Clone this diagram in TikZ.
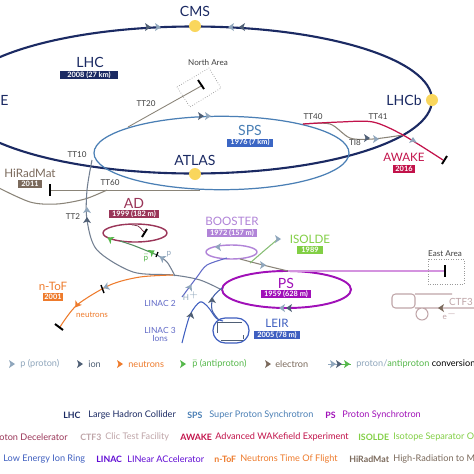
\documentclass[tikz,border=0pt]{standalone}
\usepackage{fontspec}
\setmainfont{Lato}
\definecolor{lhcblue}{HTML}{1B2A63}
\definecolor{spsblue}{HTML}{4A7FB5}
\definecolor{yellowdot}{HTML}{F9D65C}
\definecolor{protongrey}{HTML}{8FA6BC}
\definecolor{iongrey}{HTML}{4F5F75}
\definecolor{adred}{HTML}{9A3558}
\definecolor{boosterpurple}{HTML}{B184D8}
\definecolor{pspurple}{HTML}{A010B8}
\definecolor{leirblue}{HTML}{3F5FC0}
\definecolor{isoldegreen}{HTML}{82CF45}
\definecolor{awakered}{HTML}{C2124A}
\definecolor{toforange}{HTML}{EE7B2C}
\definecolor{hiradbrown}{HTML}{7B6A5C}
\definecolor{ctfrose}{HTML}{BFA5A8}
\definecolor{beamgrey}{HTML}{8A8478}
\definecolor{antigreen}{HTML}{55B84A}
\tikzset{
  biglabel/.style={font=\fontsize{8}{9}\selectfont,text=#1},
  midlabel/.style={font=\fontsize{6.6}{8}\selectfont,text=#1},
  smalllabel/.style={font=\fontsize{4.6}{5}\selectfont,text=#1},
  keylabel/.style={font=\fontsize{5.2}{6}\selectfont,text=#1,anchor=west,inner sep=0pt},
  keyname/.style={font=\fontsize{5}{6}\selectfont\bfseries,text=#1,anchor=west,inner sep=0pt},
  yearbox/.style={fill=#1,text=white,font=\fontsize{4.2}{5}\selectfont\bfseries,inner sep=0pt,minimum height=0.16cm},
  blockbar/.style={black,line width=1.1pt},
  dashedarea/.style={densely dotted,gray!80,line width=0.4pt},
}
\newcommand{\beamtip}[3]{\fill[#1,shift={(#2)},rotate=#3] (3,0) -- (-3,-4) -- (-1.5,0) -- (-3,4) -- cycle;}
\begin{document}
\begin{tikzpicture}[x=0.02cm,y=-0.02cm]
\clip (0,0) rectangle (474,474);
\fill[white] (0,0) rectangle (474,474);
% rings
\draw[lhcblue,line width=1.2pt] (193.5,100) ellipse (238.5 and 73.5);
\draw[spsblue,line width=0.7pt] (221.5,153) ellipse (127.5 and 36.7);
\draw[adred,line width=0.8pt] (135,233) ellipse (32 and 9);
\draw[boosterpurple,line width=0.8pt] (231.5,252) ellipse (25.5 and 7);
\draw[pspurple,line width=1.1pt] (286.5,289.5) ellipse (64.5 and 18.5);
% transfer lines
\coordinate (tt40) at (303,124);
\coordinate (ti8end) at (403,135);
\coordinate (northend) at (203,85);
\coordinate (spsleft) at (92,160);
\coordinate (pstop) at (288,271);
\coordinate (eastend) at (445,271);
\coordinate (tofsplit) at (173,275);
\draw[beamgrey,line width=0.5pt] (128,127) -- (northend);
\draw[beamgrey,line width=0.5pt] (50,190) -- (200,190);
\draw[beamgrey,line width=0.6pt] plot[smooth] coordinates {(-5,186) (30,202) (57,204) (85,199) (107,190)};
\draw[iongrey!80,line width=0.6pt] plot[smooth] coordinates {(spsleft) (87,190) (87,220) (97,250) (133,272) (tofsplit) (200,280) (222,290)};
\draw[beamgrey,line width=0.6pt] plot[smooth] coordinates {(tt40) (330,124) (350,138) (373,139) (ti8end)};
\draw[awakered,line width=0.7pt] plot[smooth] coordinates {(tt40) (340,122) (373,122) (403,135) (443,160)};
\draw[adred!70!black,line width=0.4pt] plot[smooth] coordinates {(132,225) (138,226) (144,232)};
\draw[antigreen!50!iongrey,line width=0.6pt] plot[smooth] coordinates {(120,241) (135,246) (157,255)};
\draw[iongrey!80,line width=0.6pt] plot[smooth] coordinates {(157,255) (167,262) (175,276)};
\draw[toforange,line width=0.6pt] plot[smooth] coordinates {(tofsplit) (140,277) (110,285) (77,305) (60,327)};
\draw[leirblue!70!boosterpurple,line width=0.6pt] plot[smooth] coordinates {(182,297) (197,277) (207,265) (227,258)};
\draw[leirblue,line width=0.6pt] plot[smooth] coordinates {(182,343) (190,315) (200,302) (208,307) (216,318) (223,321)};
\draw[leirblue!70!iongrey,line width=0.6pt] plot[smooth] coordinates {(218,319) (212,310) (213,297) (222,288)};
\draw[beamgrey,line width=0.6pt] plot[smooth] coordinates {(240,259) (263,265) (pstop)};
\draw[isoldegreen!60!protongrey,line width=0.6pt] plot[smooth] coordinates {(250,263) (265,250) (278,239)};
\draw[pspurple!45,line width=0.7pt] (pstop) -- (eastend);
% LEIR
\draw[leirblue,line width=0.7pt,rounded corners=7pt] (213,318) rectangle (249,343);
\draw[iongrey,line width=0.5pt] (221,340) -- (243,340) (243,335) -- (243,339) (217,333) -- (217,322) -- (242,322);
% CTF3
\draw[ctfrose,line width=0.6pt,rounded corners=2pt] (392,294) rectangle (415,308);
\draw[ctfrose,line width=0.6pt] (415,294) -- (452,294) (415,308) -- (474,308) (422,314) circle (6);
% experimental areas
\draw[dashedarea] (177,87) -- (209,68) -- (221,88) -- (190,107) -- cycle;
\draw[dashedarea] (428,259) rectangle (464,284);
\draw[blockbar] (198,80) -- (204,89);
\draw[blockbar] (50,184) -- (50,196);
\draw[blockbar] (445,265) -- (445,277);
\draw[blockbar] (442,164) -- (447,156);
\draw[blockbar] (142,237) -- (147,229);
\draw[blockbar,line width=0.7pt] (156,257) -- (158,252);
\draw[blockbar,line width=0.8pt] (101,285) -- (104,293);
\draw[blockbar] (55,324) -- (63,330);
% beam markers
\beamtip{iongrey}{148,27}{0}
\beamtip{protongrey}{158,27}{0}
\beamtip{protongrey}{231,27}{180}
\beamtip{iongrey}{242,27}{180}
\beamtip{iongrey}{201,116}{0}
\beamtip{protongrey}{208,116}{0}
\beamtip{protongrey}{87,210}{90}
\beamtip{iongrey}{87,220}{90}
\beamtip{iongrey}{367,138}{0}
\beamtip{protongrey}{376,139}{0}
\beamtip{protongrey}{413,140}{90}
\beamtip{antigreen}{110,239}{150}
\beamtip{antigreen}{152,252}{30}
\beamtip{protongrey}{162,258}{150}
\beamtip{protongrey}{106,287}{200}
\beamtip{toforange}{77,305}{235}
\beamtip{protongrey}{190,287}{60}
\beamtip{iongrey}{191,315}{75}
\beamtip{iongrey}{212,300}{90}
\beamtip{protongrey}{218,247}{180}
\beamtip{protongrey}{263,265}{0}
\beamtip{protongrey}{278,239}{0}
\beamtip{protongrey}{282,308}{180}
\beamtip{iongrey}{289,308}{180}
\beamtip{hiradbrown}{441,308}{180}
% experiments
\foreach \px/\py in {195/26,195/174,432/100}
  \fill[yellowdot] (\px,\py) circle (6);
\node[biglabel=lhcblue] (cms) at (195,11) {CMS};
\node[biglabel=lhcblue] (atlas) at (195,160) {ATLAS};
\node[biglabel=lhcblue,anchor=east,inner sep=0pt] (lhcb) at (422,100) {LHCb};
\node[biglabel=lhcblue,anchor=west,inner sep=0pt] (alice) at (0,100) {E};
% machine names
\node[biglabel=lhcblue] (lhc) at (90,62) {LHC};
\node[yearbox=lhcblue,minimum width=1.16cm] (lhcyear) at (89,75) {2008 (27 km)};
\node[biglabel=spsblue] (sps) at (250,130) {SPS};
\node[yearbox=spsblue!80!blue,minimum width=0.92cm] (spsyear) at (250,142.5) {1976 (7 km)};
\node[midlabel=hiradbrown] (hiradmat) at (30,173) {HiRadMat};
\node[yearbox=hiradbrown,minimum width=0.48cm] (hiradyear) at (30,184) {2011};
\node[midlabel=adred,font=\fontsize{8}{9}\selectfont] (ad) at (134,203) {AD};
\node[yearbox=adred,minimum width=1cm] (adyear) at (134,214) {1999 (182 m)};
\node[midlabel=boosterpurple] (booster) at (232,221) {BOOSTER};
\node[yearbox=boosterpurple,minimum width=1cm] (boosteryear) at (232,233) {1972 (157 m)};
\node[midlabel=isoldegreen] (isolde) at (310,239) {ISOLDE};
\node[yearbox=isoldegreen,minimum width=0.52cm] (isoldeyear) at (310,250) {1989};
\node[biglabel=pspurple] (ps) at (286,283) {PS};
\node[yearbox=pspurple,minimum width=1cm] (psyear) at (286,294) {1959 (628 m)};
\node[midlabel=leirblue] (leir) at (277,323) {LEIR};
\node[yearbox=leirblue,minimum width=0.92cm] (leiryear) at (277,335) {2005 (78 m)};
\node[midlabel=awakered] (awake) at (404,157) {AWAKE};
\node[yearbox=awakered,minimum width=0.44cm] (awakeyear) at (404,168.5) {2016};
\node[midlabel=toforange] (ntof) at (53,286) {n-ToF};
\node[yearbox=toforange,minimum width=0.42cm] (ntofyear) at (53,296.5) {2001};
\node[midlabel=ctfrose,font=\fontsize{5.6}{6}\selectfont,inner sep=0pt] (ctf) at (461,302) {CTF3};
% small labels
\node[smalllabel=black!75] (northarea) at (208,63) {North Area};
\node[smalllabel=black!75] (eastarea) at (445,254) {East Area};
\node[smalllabel=black!75] (ttwenty) at (146,104) {TT20};
\node[smalllabel=black!75] (ttten) at (77,155) {TT10};
\node[smalllabel=black!75] (ttsixty) at (110,183) {TT60};
\node[smalllabel=black!75] (tttwo) at (73,217) {TT2};
\node[smalllabel=black!75] (ttforty) at (313,117) {TT40};
\node[smalllabel=black!75] (ttfortyone) at (378,117) {TT41};
\node[smalllabel=black!75] (tieight) at (355,143) {TI8};
\node[smalllabel=toforange] (neutrons) at (92,315) {neutrons};
\node[smalllabel=leirblue!70!boosterpurple,font=\fontsize{4.8}{5}\selectfont] (linactwo) at (160,303) {LINAC 2};
\node[smalllabel=leirblue!70!boosterpurple,font=\fontsize{4.8}{5}\selectfont] (linacthree) at (160,330) {LINAC 3};
\node[smalllabel=leirblue!70!boosterpurple,font=\fontsize{4.8}{5}\selectfont] (ions) at (160,339) {Ions};
\node[smalllabel=protongrey] (hplus) at (191,296) {H$^{+}$};
\node[smalllabel=antigreen] (pbar) at (146,258) {$\bar{\mathrm{p}}$};
\node[smalllabel=protongrey] (plabel) at (169,254) {p};
\node[smalllabel=ctfrose] (eminus) at (450,315) {e$^{-}$};
% particle key
\beamtip{protongrey}{12,364}{0}
\beamtip{iongrey}{80,364}{0}
\beamtip{toforange}{120,364}{0}
\beamtip{antigreen}{183,364}{0}
\beamtip{hiradbrown}{268,364}{0}
\node[keylabel=protongrey] (keyproton) at (20,364) {p (proton)};
\node[keylabel=iongrey] (keyion) at (88,364) {ion};
\node[keylabel=toforange] (keyneutron) at (128,364) {neutrons};
\node[keylabel=antigreen] (keyanti) at (192,364) {$\bar{\mathrm{p}}$ (antiproton)};
\node[keylabel=hiradbrown] (keyelectron) at (275,364) {electron};
\coordinate (convstart) at (328,364);
\coordinate (convend) at (351,364);
\draw[protongrey,line width=0.5pt] (convstart) -- (339,364);
\draw[antigreen,line width=0.5pt] (339,364) -- (convend);
\beamtip{protongrey}{333,364}{0}
\beamtip{iongrey}{339,364}{0}
\beamtip{antigreen}{347,364}{0}
\node[keylabel=protongrey] (keyconv) at (356,364) {proton/\textcolor{antigreen}{antiproton} \textcolor{black}{conversion}};
% accelerator key
\node[keyname=lhcblue] (keylhc) at (63,415) {LHC};
\node[keylabel=lhcblue] (keylhctext) at (88,415) {Large Hadron Collider};
\node[keyname=spsblue] (keysps) at (187,415) {SPS};
\node[keylabel=spsblue] (keyspstext) at (209,415) {Super Proton Synchrotron};
\node[keyname=pspurple] (keyps) at (325,415) {PS};
\node[keylabel=pspurple] (keypstext) at (342,415) {Proton Synchrotron};
\node[keylabel=adred,anchor=east] (keyad) at (68,437) {oton Decelerator};
\node[keyname=ctfrose] (keyctf) at (80,437) {CTF3};
\node[keylabel=ctfrose] (keyctftext) at (105,437) {Clic Test Facility};
\node[keyname=awakered] (keyawake) at (180,437) {AWAKE};
\node[keylabel=awakered] (keyawaketext) at (215,437) {Advanced WAKefield Experiment};
\node[keyname=isoldegreen] (keyisolde) at (358,437) {ISOLDE};
\node[keylabel=isoldegreen] (keyisoldetext) at (393,437) {Isotope Separator O};
\node[keylabel=leirblue] (keyleir) at (3,459) {Low Energy Ion Ring};
\node[keyname=pspurple!60!blue] (keylinac) at (96,459) {LINAC};
\node[keylabel=pspurple!60!blue] (keylinactext) at (127,459) {LINear ACcelerator};
\node[keyname=toforange] (keyntof) at (214,459) {n-ToF};
\node[keylabel=toforange] (keyntoftext) at (240,459) {Neutrons Time Of Flight};
\node[keyname=hiradbrown] (keyhirad) at (349,459) {HiRadMat};
\node[keylabel=hiradbrown] (keyhiradtext) at (393,459) {High-Radiation to M};
\end{tikzpicture}
\end{document}
